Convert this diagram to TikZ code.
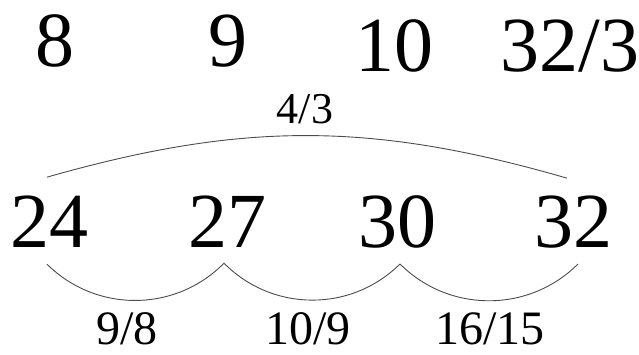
\documentclass[tikz,border=0pt]{standalone}
\usepackage{fontspec}
\setmainfont{Liberation Serif}
\usepackage{tikz}
\usetikzlibrary{positioning,calc}
\tikzset{
	bignum/.style={inner sep=0pt, anchor=base, font=\fontsize{78}{80}\selectfont},
	ratio/.style={inner sep=0pt, anchor=base, font=\fontsize{48}{50}\selectfont},
	smallratio/.style={inner sep=0pt, anchor=base, font=\fontsize{44}{46}\selectfont},
	arc/.style={draw=black!70, line width=0.9pt}
}
\begin{document}
\begin{tikzpicture}[x=1pt, y=1pt]
	\useasboundingbox (0,0) rectangle (639,354);
	% upper row
	\node[bignum] (a8) at (55,287) {8};
	\node[bignum] (a9) at (228,287) {9};
	\node[bignum] (a10) at (394,282) {10};
	\node[bignum] (a32) at (570,282) {32/3};
	% lower row
	\node[bignum] (b24) at (49,107) {24};
	\node[bignum] (b27) at (227,107) {27};
	\node[bignum] (b30) at (397,107) {30};
	\node[bignum] (b32) at (573,107) {32};
	% ratios
	\node[smallratio] (r43) at (305,231) {4/3};
	\node[ratio] (r98) at (127,10) {9/8};
	\node[ratio] (r109) at (308,10) {10/9};
	\node[ratio] (r1615) at (490,10) {16/15};
	
	\draw[arc] ([shift={(-2,18)}]b24.north) to[bend left=16] ([shift={(-6,17)}]b32.north);
	\draw[arc] ([shift={(-2,-17)}]b24.south) to[bend right=45] ([shift={(-3,-16)}]b27.south);
	\draw[arc] ([shift={(-3,-16)}]b27.south) to[bend right=45] ([shift={(3,-16)}]b30.south);
	\draw[arc] ([shift={(3,-16)}]b30.south) to[bend right=45] ([shift={(5,-16)}]b32.south);
\end{tikzpicture}
\end{document}
